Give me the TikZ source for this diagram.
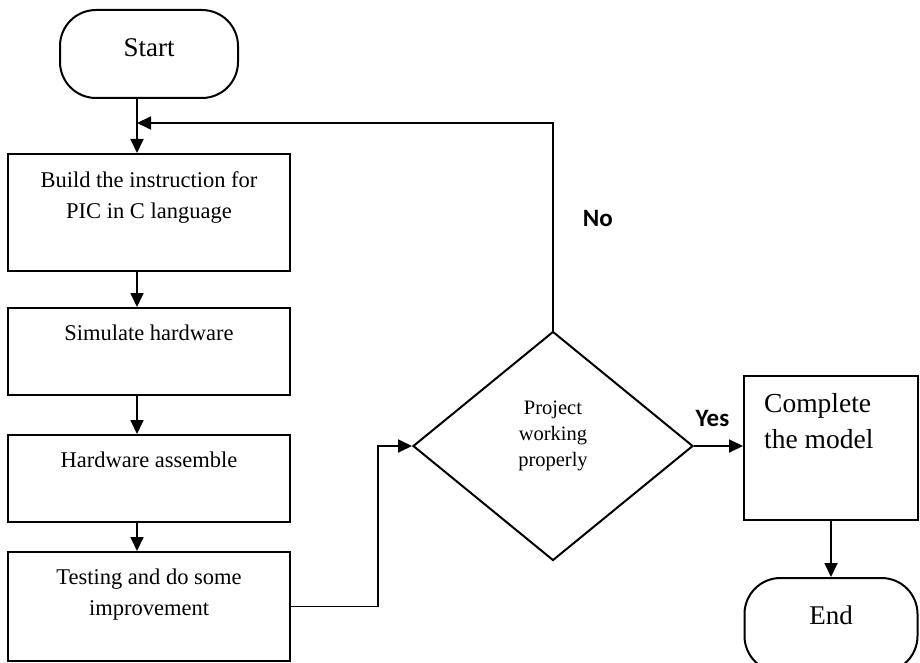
\documentclass[tikz,border=0pt]{standalone}
\usepackage{fontspec}
\setmainfont{Liberation Serif}
\newfontfamily\calfont{Carlito}
\usetikzlibrary{arrows.meta}
\usetikzlibrary{shapes.geometric}
\usetikzlibrary{math}

\begin{document}
\begin{tikzpicture}[x=1pt,y=-1pt,
  every node/.style={inner sep=0pt},
  flow/.style={line width=1.8pt,-{Triangle[length=14pt,width=13pt]}},
  stepbox/.style={draw,line width=2pt,minimum width=282pt},
  term/.style={draw,line width=2pt,rounded corners=36pt},
  txt/.style={anchor=north,yshift=-#1,align=center,font=\fontsize{22.5}{31}\selectfont},
  mid/.style={anchor=center,yshift=#1,align=center,font=\fontsize{27}{34}\selectfont},
  cal/.style={font=\calfont\bfseries\fontsize{25}{30}\selectfont}
]
\tikzmath{
\mx=137;
\bx=378;
}
\useasboundingbox (0,0) rectangle (920,663);

% left column
\node[term,minimum width=178pt,minimum height=88pt,label={[mid=6]center:Start}] (start) at (149,54) {};
\node[stepbox,minimum height=117pt,label={[txt=18]north:Build the instruction for\\PIC in C language}] (build) at (149,212.5) {};
\node[stepbox,minimum height=87pt,label={[txt=18]north:Simulate hardware}] (sim) at (149,351.5) {};
\node[stepbox,minimum height=87pt,label={[txt=18]north:Hardware assemble}] (asm) at (149,478.5) {};
\node[stepbox,minimum height=109pt,label={[txt=18]north:Testing and do some\\improvement}] (test) at (149,606.5) {};

% decision and the end
\node[draw,diamond,line width=2pt,minimum width=280pt,minimum height=229pt,
  label={[mid=10,font=\fontsize{20.5}{26}\selectfont]center:Project\\working\\properly}] (ask) at (553,446) {};
\node[draw,line width=2pt,minimum width=174pt,minimum height=144pt,
  label={[anchor=north west,xshift=21pt,yshift=-18pt,align=left,font=\fontsize{27.5}{36}\selectfont]north west:Complete\\the model}] (done) at (831,448) {};
\node[term,minimum width=173pt,minimum height=94pt,label={[mid=10]center:End}] (finish) at (831,625) {};

\coordinate (trunk) at (\mx,0);
\coordinate (back) at (\mx,123);
\coordinate (bend) at (\bx,0);

\foreach \a/\b in {start/build,build/sim,sim/asm,asm/test}
  \draw[flow] (\a.south -| trunk) -- (\b.north -| trunk);
\draw[flow] (test.east) -- (test.east -| bend) |- (ask.west);
\draw[flow] (ask.north) |- (back) node[pos=0.27,right=29pt,cal] (no) {No};
\draw[flow] (ask.east) -- (ask.east -| done.west) node[midway,above=18pt,xshift=-6pt,cal] (yes) {Yes};
\draw[flow] (done.south) -- (finish.north);
\end{tikzpicture}
\end{document}
